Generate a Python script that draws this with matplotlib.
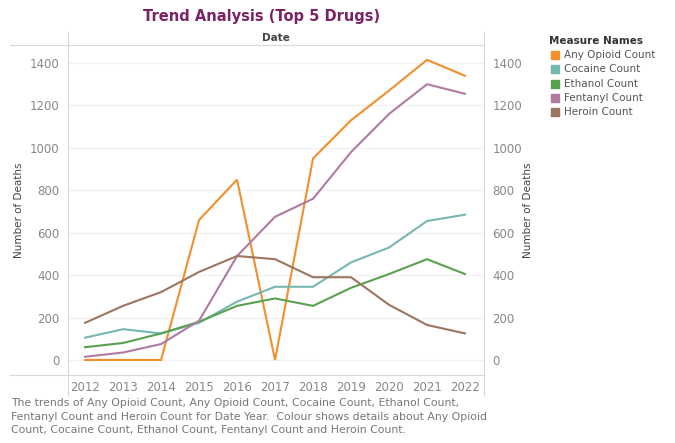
import matplotlib.pyplot as plt
from matplotlib.lines import Line2D
from matplotlib.patches import Rectangle

years = [2012, 2013, 2014, 2015, 2016, 2017, 2018, 2019, 2020, 2021, 2022]
any_opioid = [0, 0, 0, 660, 850, 0, 950, 1130, 1270, 1415, 1340]
cocaine = [105, 145, 125, 175, 275, 345, 345, 460, 530, 655, 685]
ethanol = [60, 80, 125, 180, 255, 290, 255, 340, 405, 475, 405]
fentanyl = [15, 35, 75, 185, 490, 675, 760, 980, 1160, 1300, 1255]
heroin = [175, 255, 320, 415, 490, 475, 390, 390, 260, 165, 125]

measure_names = ['Any Opioid Count', 'Cocaine Count', 'Ethanol Count',
                 'Fentanyl Count', 'Heroin Count']
colours = ['#F28E2B', '#76B7B2', '#59A14F', '#B07AA1', '#9C755F']
y_ticks = [0, 200, 400, 600, 800, 1000, 1200, 1400]

W, H = 675, 443
fig = plt.figure(figsize=(W / 100, H / 100), dpi=100)

def fx(px):
    return px / W

def fy(py):
    return 1 - py / H

ax = fig.add_axes([fx(68), fy(375), fx(484) - fx(68), fy(45) - fy(375)])

series = [any_opioid, cocaine, ethanol, fentanyl, heroin]
for vals, col in zip(series, colours):
    ax.plot(years, vals, color=col, lw=1.5, solid_joinstyle='miter')

ax.set_xlim(2011.55, 2022.5)
ax.set_ylim(-71, 1485)
ax.set_xticks(years)
ax.set_yticks(y_ticks)
ax.set_xticklabels([str(y) for y in years])
ax.tick_params(axis='both', length=0, colors='#888888', labelsize=8.5)
ax.tick_params(axis='y', labelright=True, pad=6)
ax.tick_params(axis='x', pad=4)
for s in ax.spines.values():
    s.set_visible(False)
ax.grid(axis='y', color='#f0f0f0', lw=0.8)
ax.set_axisbelow(True)

ax.set_ylabel('Number of Deaths', fontsize=7.5, color='#444444')
ax.yaxis.set_label_coords((24 - 68) / 416, 0.5)
fig.text(fx(528), fy(210), 'Number of Deaths', rotation=90, fontsize=7.5,
         color='#444444', ha='center', va='center')

# frame lines around the pane and the header
grey = '#d9d9d9'
fig.add_artist(Line2D([fx(10), fx(484)], [fy(45), fy(45)], color=grey, lw=0.8))
fig.add_artist(Line2D([fx(10), fx(484)], [fy(375), fy(375)], color=grey, lw=0.8))
fig.add_artist(Line2D([fx(68), fx(68)], [fy(32), fy(395)], color=grey, lw=0.8))
fig.add_artist(Line2D([fx(484), fx(484)], [fy(32), fy(395)], color=grey, lw=0.8))

fig.text(fx(276), fy(38), 'Date', fontsize=7.5, color='#444444',
         ha='center', va='center', fontweight='bold')
fig.text(fx(262), fy(17), 'Trend Analysis (Top 5 Drugs)', fontsize=10.5,
         fontweight='bold', color='#7B2264', ha='center', va='center')

# legend
fig.text(fx(549), fy(41), 'Measure Names', fontsize=7.5, color='#333333',
         fontweight='bold', va='center')
for i, (name, col) in enumerate(zip(measure_names, colours)):
    y = 55 + i * 14.3
    fig.add_artist(Rectangle((fx(551), fy(y + 4)), fx(8), fy(0) - fy(8),
                             color=col, transform=fig.transFigure))
    fig.text(fx(564), fy(y), name, fontsize=7.5, color='#555555', va='center')

caption = ('The trends of Any Opioid Count, Any Opioid Count, Cocaine Count, Ethanol Count,\n'
           'Fentanyl Count and Heroin Count for Date Year.  Colour shows details about Any Opioid\n'
           'Count, Cocaine Count, Ethanol Count, Fentanyl Count and Heroin Count.')
fig.text(fx(11), fy(398), caption, fontsize=7.8, color='#777777', va='top',
         linespacing=1.45)

fig.savefig('out.png', dpi=100)
